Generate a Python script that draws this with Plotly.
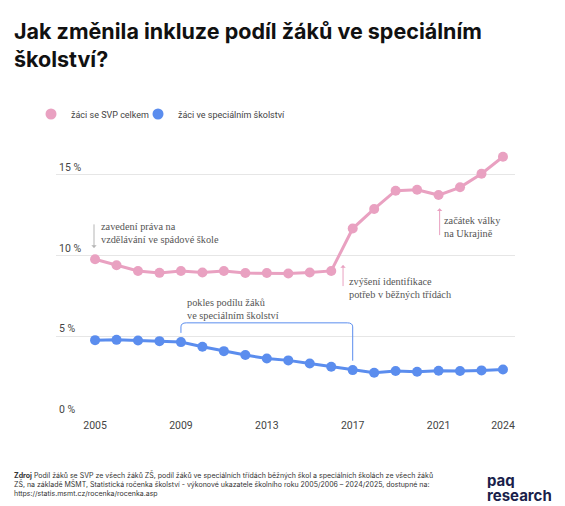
import plotly.graph_objects as go

# data
years = list(range(2005, 2025))
svp_total = [9.75, 9.38, 9.03, 8.91, 9.03, 8.93, 9.03, 8.9, 8.9, 8.87,
             8.93, 9.03, 11.65, 12.86, 13.99, 14.05, 13.72, 14.2, 15.04, 16.09]
special_school = [4.75, 4.77, 4.73, 4.69, 4.63, 4.34, 4.07, 3.83, 3.62, 3.5,
                  3.31, 3.11, 2.9, 2.74, 2.84, 2.8, 2.86, 2.84, 2.88, 2.94]

series_names = ["žáci se SVP celkem", "žáci ve speciálním školství"]
x_ticks = [2005, 2009, 2013, 2017, 2021, 2024]
y_ticks = [0, 5, 10, 15]
y_ticktext = ["0 %", "5 %", "10 %", "15 %"]

pink = "#E9A1C1"
blue = "#5B8DEE"

W, H = 565, 506
ml, mr, mt, mb = 56, 50, 142, 89
pw, ph = W - ml - mr, H - mt - mb

def px_x(p):
    return (p - ml) / pw

def px_y(p):
    return (H - mb - p) / ph

sans = "Roboto, sans-serif"

fig = go.Figure()

fig.add_trace(go.Scatter(x=years, y=svp_total, mode="lines+markers",
                         line=dict(color=pink, width=3), marker=dict(size=10, color=pink),
                         showlegend=False, hoverinfo="skip"))
fig.add_trace(go.Scatter(x=years, y=special_school, mode="lines+markers",
                         line=dict(color=blue, width=3), marker=dict(size=10, color=blue),
                         showlegend=False, hoverinfo="skip"))

# legend entries: circle only, each in its own legend so the spacing can be set
for name, c, lg in zip(series_names, [pink, blue], ["legend", "legend2"]):
    fig.add_trace(go.Scatter(x=[None], y=[None], mode="markers", name=name,
                             marker=dict(size=11, color=c), legend=lg))

serif = dict(family="Liberation Serif, DejaVu Serif, serif", size=10.3, color="#555555")

# arrows
arrows = [
    (2004.95, 10.45, 12.0, "#b5b5b5"),
    (2016.55, 9.4, 8.0, pink),
    (2021.05, 12.9, 11.15, pink),
]
for ax_x, tip, tail, c in arrows:
    fig.add_annotation(x=ax_x, y=tip, ax=ax_x, ay=tail, axref="x", ayref="y",
                       text="", showarrow=True, arrowhead=1, arrowsize=0.9,
                       arrowwidth=1, arrowcolor=c)

notes = [
    (2005.17, 11.4, "zavedení práva na<br>vzdělávání ve spádové škole"),
    (2016.72, 8.0, "zvýšení identifikace<br>potřeb v běžných třídách"),
    (2021.15, 11.73, "začátek války<br>na Ukrajině"),
    (2009.19, 6.67, "pokles podílu žáků<br>ve speciálním školství"),
]
for nx, ny, t in notes:
    fig.add_annotation(x=nx, y=ny, text=t, showarrow=False, xanchor="left",
                       yanchor="middle", align="left", font=serif)

# bracket over the decline 2009-2017
b0, b1 = 2009, 2017
top, r = 5.82, 0.25
fig.add_shape(type="path",
              path=f"M {b0},5.2 L {b0},{top - r} Q {b0},{top} {b0 + 0.25},{top} "
                   f"L {b1 - 0.25},{top} Q {b1},{top} {b1},{top - r} L {b1},3.48",
              line=dict(color=blue, width=1))

# title
fig.add_annotation(xref="paper", yref="paper", x=px_x(12), y=px_y(45),
                   xanchor="left", yanchor="middle", align="left", showarrow=False,
                   text="<b>Jak změnila inkluze podíl žáků ve speciálním<br>školství?</b>",
                   font=dict(family="Inter, sans-serif", size=21.5, color="#111111"))

fig.add_annotation(xref="paper", yref="paper", x=px_x(12), y=px_y(484),
                   xanchor="left", yanchor="middle", align="left", showarrow=False,
                   text="<b>Zdroj</b> Podíl žáků se SVP ze všech žáků ZŠ, podíl žáků ve speciálních třídách běžných škol a speciálních školách ze všech žáků<br>"
                        "ZŠ, na základě MŠMT, Statistická ročenka školství - výkonové ukazatele školního roku 2005/2006 – 2024/2025, dostupné na:<br>"
                        "https://statis.msmt.cz/rocenka/rocenka.asp",
                   font=dict(family="Inter, sans-serif", size=7, color="#333333"))

for t, py, h in [("paq", 480, 16), ("research", 495, 13)]:
    fig.add_annotation(xref="paper", yref="paper", x=px_x(485), y=px_y(py),
                       xanchor="left", yanchor="middle", showarrow=False,
                       text=f"<b>{t}</b>", height=h,
                       font=dict(family="Inter, sans-serif", size=15, color="#1b1f4b"))

legend_style = dict(orientation="h", yanchor="middle", xanchor="left", y=px_y(114),
                    font=dict(family=sans, size=9, color="#444444"),
                    itemwidth=30, bgcolor="rgba(0,0,0,0)")

fig.update_layout(
    width=W, height=H,
    margin=dict(l=ml, r=mr, t=mt, b=mb),
    paper_bgcolor="white", plot_bgcolor="white",
    legend=dict(x=px_x(31), **legend_style),
    legend2=dict(x=px_x(138), **legend_style),
    xaxis=dict(range=[2003.18, 2024.56], tickvals=x_ticks, showgrid=False,
               zeroline=False, showline=False, ticks="",
               tickfont=dict(family=sans, size=10.5, color="#444444")),
    yaxis=dict(range=[0, 17], tickvals=y_ticks, ticktext=y_ticktext,
               ticklabelposition="inside top", showgrid=True, gridcolor="#e6e6e6",
               zeroline=False, showline=False, ticks="",
               tickfont=dict(family=sans, size=10.5, color="#444444")),
)

fig.write_html("out.html", config={"displayModeBar": False},
               post_script="document.body.style.margin='0';")
